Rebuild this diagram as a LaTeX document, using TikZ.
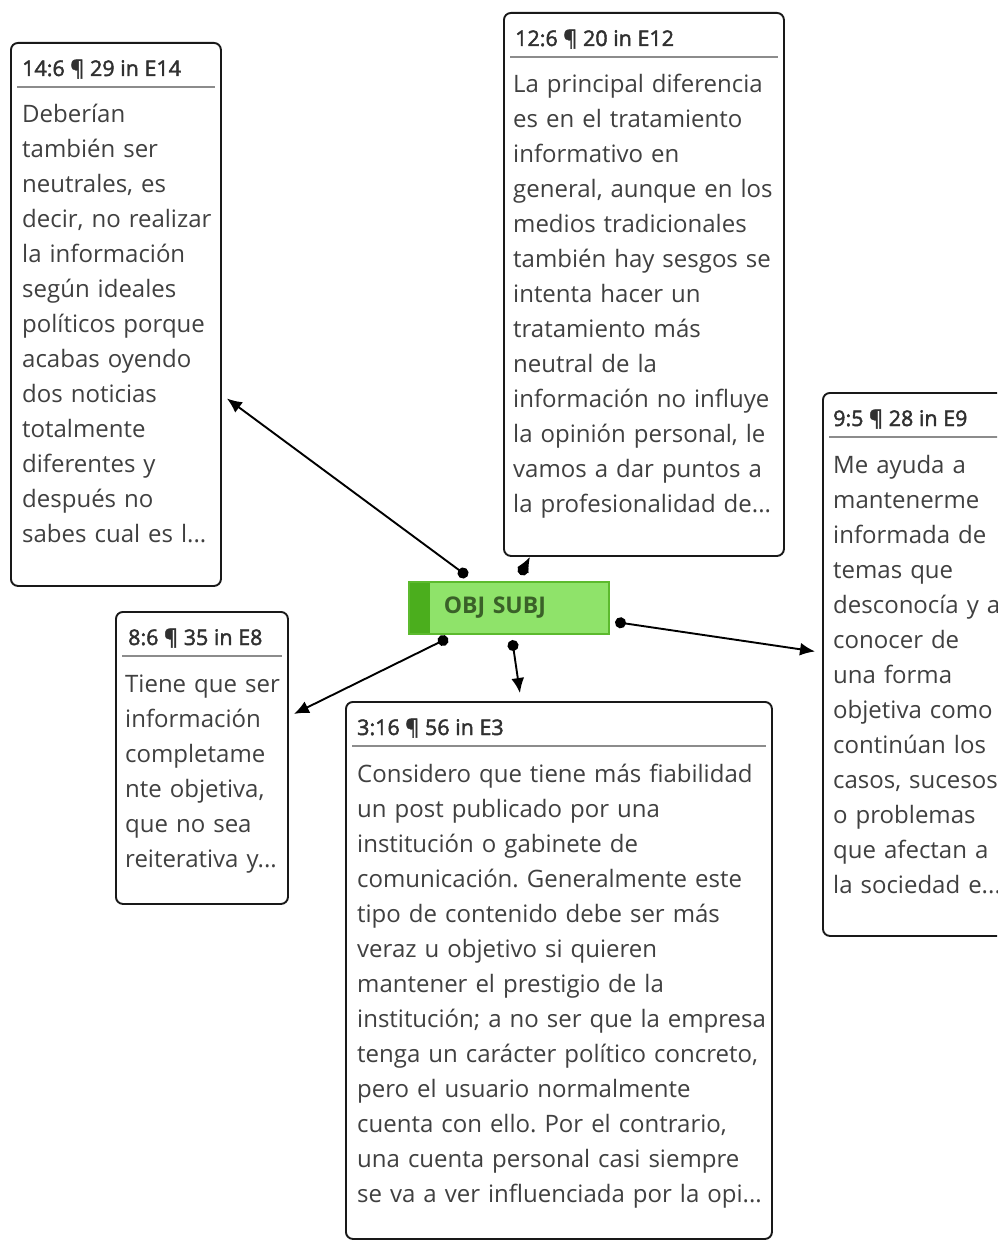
\documentclass[tikz,border=0pt]{standalone}
\usepackage{fontspec}
\setmainfont{Open Sans}
\newfontfamily\headfont[FakeBold=2]{Open Sans}
\usetikzlibrary{arrows.meta, positioning, calc}
\frenchspacing

\definecolor{txtgray}{HTML}{404040}
\definecolor{rulegray}{HTML}{8C8C8C}
\definecolor{codefill}{HTML}{8FE36A}
\definecolor{codestrip}{HTML}{4BAE1D}
\definecolor{codeline}{HTML}{5CBA2E}
\definecolor{codetext}{HTML}{3A6128}

\tikzset{
    card/.style={draw=black!90, line width=1.9pt, rounded corners=7pt, fill=white, anchor=north west, inner sep=0pt},
    head/.style={anchor=base west, inner sep=0pt, text=txtgray!75!black, font=\headfont\fontsize{21.5}{26}\selectfont},
    excerpt/.style={anchor=base west, inner sep=0pt, align=left, text width=440pt, text=txtgray, font=\fontsize{24}{35}\selectfont},
    sep/.style={draw=rulegray, line width=1.4pt},
    objcode/.style={draw=codeline, fill=codefill, line width=1.5pt, anchor=north west,
        minimum width=200pt, minimum height=52pt, text width=130pt, inner xsep=35pt, inner ysep=0pt,
        align=left, text=codetext, font=\bfseries\fontsize{23}{26}\selectfont,
        path picture={\fill[codestrip] (path picture bounding box.north west) rectangle ([xshift=21pt]path picture bounding box.south west);}},
    link/.style={line width=1.9pt, shorten <=-5.5pt, {Circle[length=11pt]}-{Latex[length=15pt,width=13pt]}},
}

\begin{document}
\begin{tikzpicture}[x=1pt, y=-1pt]
    \useasboundingbox (0,0) rectangle (997,1241);
    \clip (0,0) rectangle (997,1241);

    % quotation boxes
    \node[card, minimum width=210pt, minimum height=543pt] (b14) at (10,42) {};
    \node[head] (h14) at ([shift={(12,34)}]b14.north west) {14:6 ¶ 29 in E14};
    \draw[sep] ([shift={(7,45)}]b14.north west) -- ([shift={(-7,45)}]b14.north east);
    \node[excerpt] (x14) at ([shift={(12,81)}]b14.north west) {Deberían\\también ser\\neutrales, es\\decir, no realizar\\la información\\según ideales\\políticos porque\\acabas oyendo\\dos noticias\\totalmente\\diferentes y\\después no\\sabes cual es l...};

    \node[card, minimum width=280pt, minimum height=543pt] (b12) at (503,12) {};
    \node[head] (h12) at ([shift={(12,34)}]b12.north west) {12:6 ¶ 20 in E12};
    \draw[sep] ([shift={(7,45)}]b12.north west) -- ([shift={(-7,45)}]b12.north east);
    \node[excerpt] (x12) at ([shift={(10,81)}]b12.north west) {La principal diferencia\\es en el tratamiento\\informativo en\\general, aunque en los\\medios tradicionales\\también hay sesgos se\\intenta hacer un\\tratamiento más\\neutral de la\\información no influye\\la opinión personal, le\\vamos a dar puntos a\\la profesionalidad de...};

    \node[card, minimum width=200pt, minimum height=543pt] (b9) at (822,392) {};
    \node[head] (h9) at ([shift={(11,34)}]b9.north west) {9:5 ¶ 28 in E9};
    \draw[sep] ([shift={(7,45)}]b9.north west) -- ([shift={(-7,45)}]b9.north east);
    \node[excerpt] (x9) at ([shift={(11,81)}]b9.north west) {Me ayuda a\\mantenerme\\informada de\\temas que\\desconocía y a\\conocer de\\una forma\\objetiva como\\continúan los\\casos, sucesos\\o problemas\\que afectan a\\la sociedad e...};

    \node[card, minimum width=172pt, minimum height=292pt] (b8) at (115,611) {};
    \node[head] (h8) at ([shift={(13,34)}]b8.north west) {8:6 ¶ 35 in E8};
    \draw[sep] ([shift={(7,45)}]b8.north west) -- ([shift={(-7,45)}]b8.north east);
    \node[excerpt] (x8) at ([shift={(10,81)}]b8.north west) {Tiene que ser\\información\\completame\\nte objetiva,\\que no sea\\reiterativa y...};

    \node[card, minimum width=426pt, minimum height=537pt] (b3) at (345,701) {};
    \node[head] (h3) at ([shift={(12,34)}]b3.north west) {3:16 ¶ 56 in E3};
    \draw[sep] ([shift={(7,45)}]b3.north west) -- ([shift={(-7,45)}]b3.north east);
    \node[excerpt] (x3) at ([shift={(12,81)}]b3.north west) {Considero que tiene más fiabilidad\\un post publicado por una\\institución o gabinete de\\comunicación. Generalmente este\\tipo de contenido debe ser más\\veraz u objetivo si quieren\\mantener el prestigio de la\\institución; a no ser que la empresa\\tenga un carácter político concreto,\\pero el usuario normalmente\\cuenta con ello. Por el contrario,\\una cuenta personal casi siempre\\se va a ver influenciada por la opi...};

    % code
    \node[objcode] (obj) at (408,581) {OBJ SUBJ};

    % links
    \coordinate (d14) at ([shift={(55,-8)}]obj.north west);
    \coordinate (d12) at ([shift={(115,-11)}]obj.north west);
    \coordinate (d9) at ([shift={(11,15)}]obj.east);
    \coordinate (d8) at ([shift={(35,6)}]obj.south west);
    \coordinate (d3) at ([shift={(105,11)}]obj.south west);
    \coordinate (t14) at ([shift={(5,84)}]b14.east);
    \coordinate (t12) at ([shift={(-114,0)}]b12.south);
    \coordinate (t9) at ([shift={(-7,-13)}]b9.west);
    \coordinate (t8) at ([shift={(5,-44)}]b8.east);
    \coordinate (t3) at ([shift={(-39,-8)}]b3.north);
    \draw[link] (d14) -- (t14);
    \draw[link] (d12) -- (t12);
    \draw[link] (d9) -- (t9);
    \draw[link] (d8) -- (t8);
    \draw[link] (d3) -- (t3);
\end{tikzpicture}
\end{document}
